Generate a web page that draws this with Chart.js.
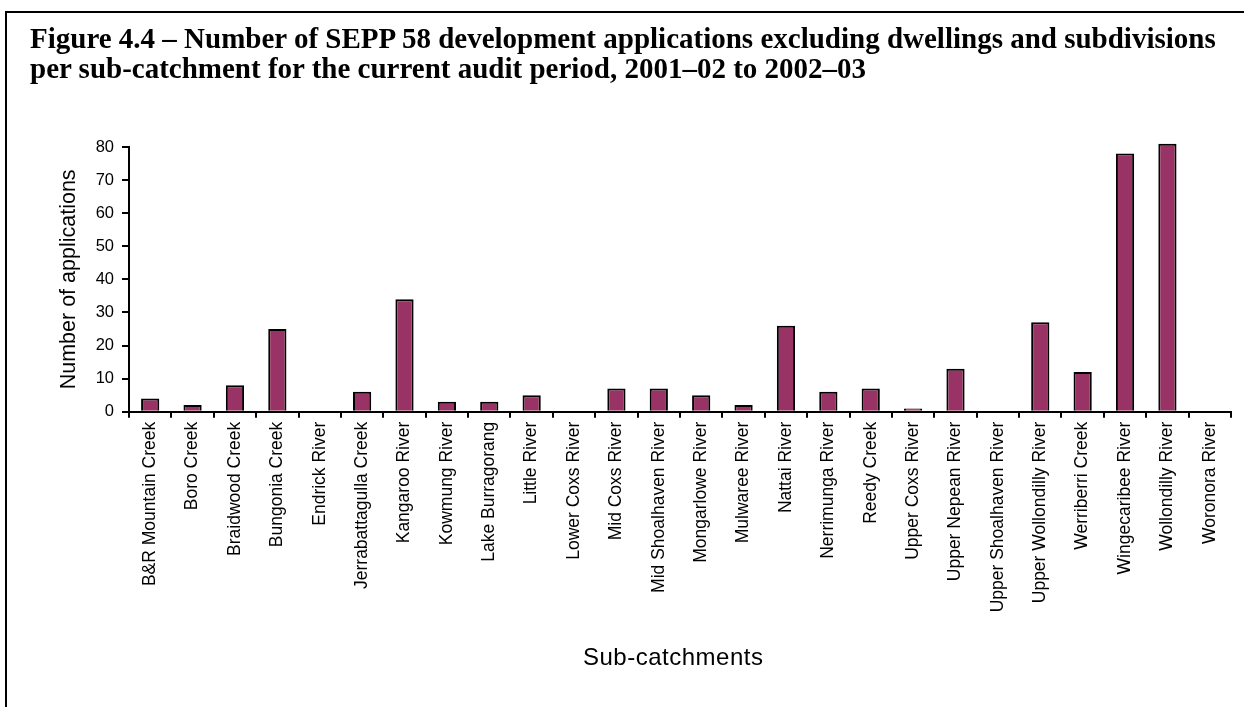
<!DOCTYPE html>
<html>
<head>
<meta charset="utf-8">
<script src="https://cdn.jsdelivr.net/npm/chart.js@4"></script>
<style>
  body { margin: 0; background: #fff; }
  #frame { position: absolute; left: 5px; top: 11px; right: 0; bottom: 0;
           border-top: 2px solid #000; border-left: 2px solid #000; }
  #wrap { position: absolute; left: 0; top: 0; width: 1244px; height: 707px; }
  #title { position: absolute; left: 30px; top: 23px; white-space: nowrap;
           font: bold 29px/30px "Liberation Serif", "Times New Roman", serif; color: #000; }
</style>
</head>
<body>
<div id="frame"></div>
<div id="wrap"><canvas id="chart" width="1244" height="707"></canvas></div>
<div id="title"></div>
<script>
// sub-catchments and number of applications
const subCatchments = [
  'B&R Mountain Creek', 'Boro Creek', 'Braidwood Creek', 'Bungonia Creek', 'Endrick River',
  'Jerrabattagulla Creek', 'Kangaroo River', 'Kowmung River', 'Lake Burragorang', 'Little River',
  'Lower Coxs River', 'Mid Coxs River', 'Mid Shoalhaven River', 'Mongarlowe River', 'Mulwaree River',
  'Nattai River', 'Nerrimunga River', 'Reedy Creek', 'Upper Coxs River', 'Upper Nepean River',
  'Upper Shoalhaven River', 'Upper Wollondilly River', 'Werriberri Creek', 'Wingecaribee River',
  'Wollondilly River', 'Woronora River'
];
const applications = [4, 2, 8, 25, 0, 6, 34, 3, 3, 5, 0, 7, 7, 5, 2, 26, 6, 7, 1, 13, 0, 27, 12, 78, 81, 0];
const yTicks = [0, 10, 20, 30, 40, 50, 60, 70, 80];

const titleLines = [
  'Figure 4.4 \u2013 Number of SEPP 58 development applications excluding dwellings and subdivisions',
  'per sub-catchment for the current audit period, 2001\u201302 to 2002\u201303'
];
const xTitle = 'Sub-catchments';
const yTitle = 'Number of applications';

document.getElementById('title').innerHTML = titleLines.map(t => t.replace(/&/g, '&amp;')).join('<br>');

// x axis title, drawn by hand so it can sit where the original has it
const xTitlePlugin = {
  id: 'xTitle',
  afterDraw(chart) {
    const ctx = chart.ctx, a = chart.chartArea;
    ctx.save();
    ctx.font = '24px "Liberation Sans", Arial, sans-serif';
    ctx.letterSpacing = '0.5px';
    ctx.fillStyle = '#000';
    ctx.textAlign = 'left';
    ctx.textBaseline = 'alphabetic';
    ctx.fillText(xTitle, a.left + 454, 665);
    ctx.restore();
  }
};

new Chart(document.getElementById('chart'), {
  type: 'bar',
  data: {
    labels: subCatchments,
    datasets: [{
      data: applications,
      backgroundColor: '#993366',
      borderColor: '#000',
      borderWidth: 2,
      barPercentage: 0.43,
      categoryPercentage: 1,
      clip: false
    }]
  },
  plugins: [xTitlePlugin],
  options: {
    responsive: false,
    animation: false,
    layout: { padding: { left: 9, right: 13, top: 147, bottom: 0 } },
    plugins: {
      legend: { display: false },
      tooltip: { enabled: false },
      title: { display: false }
    },
    scales: {
      x: {
        grid: { drawOnChartArea: false, drawTicks: true, tickLength: 6, color: '#000', lineWidth: 2, offset: true },
        border: { color: '#000', width: 2 },
        ticks: {
          color: '#000', autoSkip: false, minRotation: 90, maxRotation: 90, padding: 4,
          font: { family: '"Liberation Sans", Arial, sans-serif', size: 17.5 }
        },
        afterFit(scale) { scale.height = 707 - 411.7; }
      },
      y: {
        min: 0,
        max: 80,
        afterBuildTicks(scale) { scale.ticks = yTicks.map(v => ({ value: v })); },
        grid: { drawOnChartArea: false, drawTicks: true, tickLength: 7, color: '#000', lineWidth: 2 },
        border: { color: '#000', width: 2 },
        ticks: {
          color: '#000', padding: 8,
          font: { family: '"Liberation Sans", Arial, sans-serif', size: 16.5 }
        },
        title: {
          display: true,
          text: yTitle,
          color: '#000',
          font: { family: '"Liberation Sans", Arial, sans-serif', size: 21.5 },
          padding: { top: 47, bottom: 0 }
        },
        afterFit(scale) { scale.width = 129 - 9; }
      }
    }
  }
});
</script>
</body>
</html>
